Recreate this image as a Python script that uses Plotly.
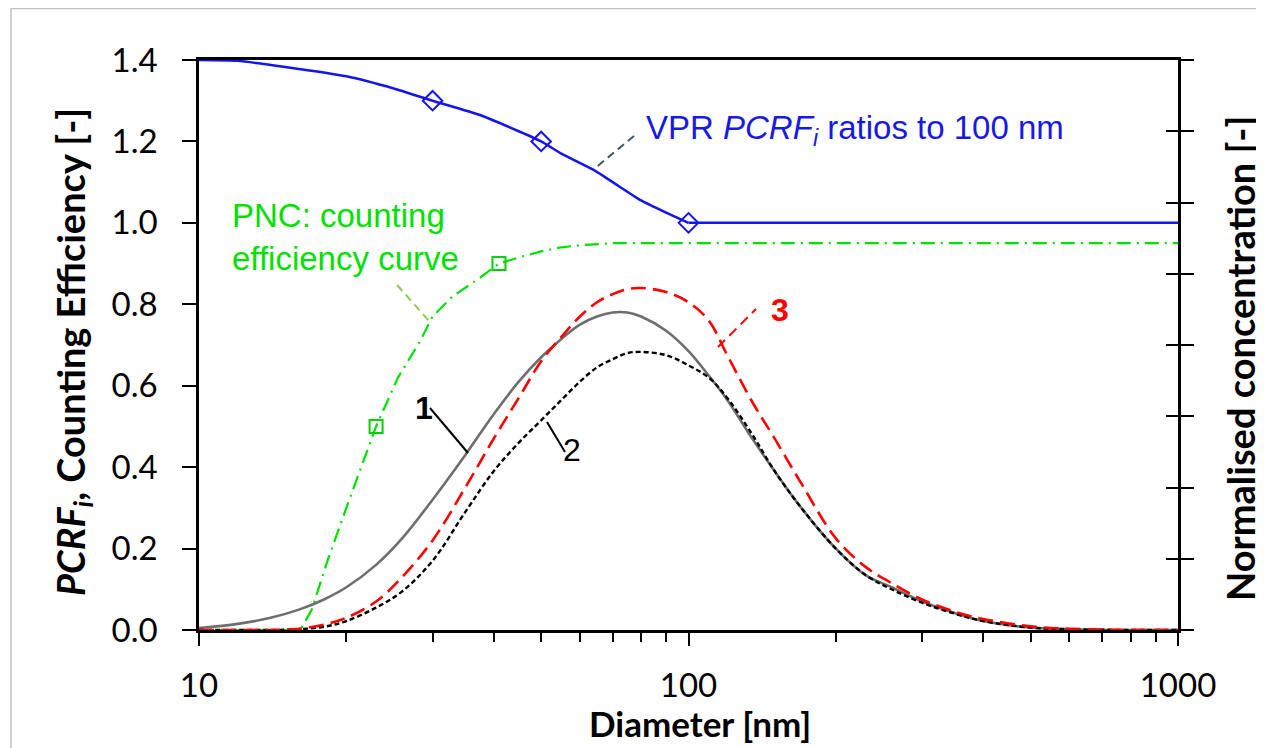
import plotly.graph_objects as go

# ---------------- data ----------------
# VPR PCRF ratios to 100 nm (curved part, then flat part)
vpr_d = [10, 12, 15, 20, 25, 30, 37.5, 45, 50, 55, 64, 70, 80, 90, 100]
vpr_r = [1.40, 1.398, 1.383, 1.36, 1.33, 1.30, 1.265, 1.225, 1.20, 1.17, 1.13, 1.10, 1.055, 1.025, 1.00]
vpr_flat_d = [100, 1000]
vpr_flat_r = [1.00, 1.00]
vpr_mark_d = [30, 50, 100]
vpr_mark_r = [1.30, 1.20, 1.00]

# PNC counting efficiency curve
pnc_d = [10, 16.1, 17, 18.3, 20, 23, 25.5, 28.3, 30, 33, 37, 41, 45, 50, 55, 60, 70, 80, 100, 1000]
pnc_e = [0, 0, 0.05, 0.17, 0.30, 0.50, 0.62, 0.71, 0.77, 0.82, 0.86, 0.90, 0.915, 0.93, 0.94, 0.945, 0.95, 0.95, 0.95, 0.95]
pnc_mark_d = [23, 41]
pnc_mark_e = [0.50, 0.90]

# size distributions (normalised concentration)
dist_d = [10, 12, 14, 16, 18, 20, 23, 26, 30, 35, 40, 45, 50, 55, 60, 65, 70, 75, 80, 90,
          100, 110, 120, 135, 150, 170, 200, 230, 260, 300, 350, 400, 500, 600, 800, 1000]
dist_1 = [0.005, 0.015, 0.03, 0.05, 0.075, 0.105, 0.16, 0.225, 0.32, 0.43, 0.53, 0.61, 0.67, 0.715, 0.75, 0.77, 0.78, 0.78, 0.77, 0.735,
          0.685, 0.625, 0.565, 0.47, 0.39, 0.30, 0.20, 0.135, 0.105, 0.07, 0.042, 0.022, 0.006, 0.002, 0, 0]
dist_2 = [0, 0, 0, 0.002, 0.008, 0.022, 0.055, 0.095, 0.17, 0.29, 0.39, 0.46, 0.515, 0.565, 0.61, 0.645, 0.665, 0.68, 0.683, 0.675,
          0.65, 0.62, 0.57, 0.48, 0.39, 0.30, 0.20, 0.135, 0.10, 0.067, 0.04, 0.022, 0.006, 0.002, 0, 0]
dist_3 = [0, 0, 0, 0.003, 0.013, 0.03, 0.07, 0.13, 0.22, 0.35, 0.47, 0.57, 0.66, 0.72, 0.77, 0.805, 0.825, 0.837, 0.84, 0.83,
          0.805, 0.76, 0.675, 0.56, 0.47, 0.36, 0.225, 0.155, 0.115, 0.075, 0.045, 0.027, 0.009, 0.003, 0, 0]

x_major = [10, 100, 1000]
x_minor = [20, 30, 40, 50, 60, 70, 80, 90, 200, 300, 400, 500, 600, 700, 800, 900]

# ---------------- layout helpers ----------------
# page coordinates of the plot area (the browser adds an 8 px body margin)
OFF = 8
PL, PR, PT, PB = 199, 1178, 60, 630
W, H = 1264 - OFF, 748 - OFF
PW, PH = PR - PL, PB - PT


def px(x):
    return (x - PL) / PW


def py(y):
    return (PB - y) / PH


FAM = "Lato, 'Open Sans', sans-serif"
TICKFONT = dict(family=FAM, size=33, color="black")
LABFONT = "Liberation Sans, Arial, sans-serif"
BLUE = "rgb(20,20,240)"

fig = go.Figure()

fig.add_trace(go.Scatter(x=pnc_d, y=pnc_e, mode="lines",
                         line=dict(color="rgb(0,225,0)", width=2.2, dash="14px,6px,2px,6px"),
                         showlegend=False))
fig.add_trace(go.Scatter(x=pnc_mark_d, y=pnc_mark_e, mode="markers",
                         marker=dict(symbol="square-open", size=13, color="rgb(0,210,0)", line=dict(width=2)),
                         showlegend=False))
fig.add_trace(go.Scatter(x=vpr_d, y=vpr_r, mode="lines",
                         line=dict(color=BLUE, width=2.5, shape="spline", smoothing=0.5),
                         showlegend=False))
fig.add_trace(go.Scatter(x=vpr_flat_d, y=vpr_flat_r, mode="lines",
                         line=dict(color=BLUE, width=2.5), showlegend=False))
fig.add_trace(go.Scatter(x=vpr_mark_d, y=vpr_mark_r, mode="markers",
                         marker=dict(symbol="diamond-open", size=15, color=BLUE, line=dict(width=2)),
                         showlegend=False))
fig.add_trace(go.Scatter(x=dist_d, y=dist_1, mode="lines", yaxis="y2",
                         line=dict(color="rgb(110,110,110)", width=2.6, shape="spline"), showlegend=False))
fig.add_trace(go.Scatter(x=dist_d, y=dist_2, mode="lines", yaxis="y2",
                         line=dict(color="black", width=2.4, dash="5px,3px", shape="spline"), showlegend=False))
fig.add_trace(go.Scatter(x=dist_d, y=dist_3, mode="lines", yaxis="y2",
                         line=dict(color="rgb(255,0,0)", width=2.6, dash="15px,7px", shape="spline"), showlegend=False))
# invisible trace so that the inner right tick axis is drawn
fig.add_trace(go.Scatter(x=[10], y=[0], yaxis="y3", mode="markers",
                         marker=dict(size=1, color="rgba(0,0,0,0)"), showlegend=False, hoverinfo="skip"))

shapes = [
    # slide frame
    dict(type="line", xref="paper", yref="paper", x0=px(11), x1=px(11), y0=py(8.5), y1=py(760),
         line=dict(color="#c0c0c0", width=1.5)),
    dict(type="line", xref="paper", yref="paper", x0=px(11), x1=px(1280), y0=py(8.5), y1=py(8.5),
         line=dict(color="#c0c0c0", width=1.5)),
    # leader lines
    dict(type="line", xref="paper", yref="paper", x0=px(634), y0=py(136), x1=px(594), y1=py(169),
         line=dict(color="rgb(60,90,110)", width=2, dash="8px,5px")),
    dict(type="line", xref="paper", yref="paper", x0=px(397), y0=py(285), x1=px(430), y1=py(322),
         line=dict(color="rgb(150,200,80)", width=2, dash="8px,5px")),
    dict(type="line", xref="paper", yref="paper", x0=px(430), y0=py(408), x1=px(468), y1=py(453),
         line=dict(color="black", width=2)),
    dict(type="line", xref="paper", yref="paper", x0=px(547), y0=py(422), x1=px(565), y1=py(452),
         line=dict(color="black", width=2)),
    dict(type="line", xref="paper", yref="paper", x0=px(718), y0=py(347), x1=px(756), y1=py(309),
         line=dict(color="rgb(255,0,0)", width=2, dash="10px,6px")),
]

annotations = [
    dict(text="VPR <i>PCRF<sub>i</sub></i> ratios to 100 nm", xref="paper", yref="paper",
         x=px(644), y=py(130), xanchor="left", yanchor="middle", showarrow=False,
         font=dict(family=LABFONT, size=33, color="rgb(25,25,230)")),
    dict(text="PNC: counting<br>efficiency curve", xref="paper", yref="paper",
         x=px(230), y=py(237), xanchor="left", yanchor="middle", align="left", showarrow=False,
         font=dict(family=LABFONT, size=33, color="rgb(0,225,0)")),
    dict(text="<b>1</b>", xref="paper", yref="paper", x=px(413), y=py(408), showarrow=False,
         font=dict(family=LABFONT, size=32, color="black")),
    dict(text="2", xref="paper", yref="paper", x=px(572), y=py(470), showarrow=False,
         font=dict(family=LABFONT, size=32, color="black")),
    dict(text="<b>3</b>", xref="paper", yref="paper", x=px(780), y=py(310), showarrow=False,
         font=dict(family=LABFONT, size=32, color="rgb(255,0,0)")),
    # axis titles
    dict(text="<b>Diameter [nm]</b>", xref="paper", yref="paper", x=px(700), y=py(723),
         xanchor="center", yanchor="middle", showarrow=False,
         font=dict(family=FAM, size=35, color="black")),
    dict(text="<b><i>PCRF<sub>i</sub></i>, Counting Efficiency [-]</b>", xref="paper", yref="paper",
         x=px(73), y=py(352), xanchor="center", yanchor="middle", textangle=-90, showarrow=False,
         font=dict(family=FAM, size=38, color="black")),
    dict(text="<b>Normalised concentration [-]</b>", xref="paper", yref="paper",
         x=px(1240), y=py(359), xanchor="center", yanchor="middle", textangle=-90, showarrow=False,
         font=dict(family=FAM, size=38, color="black")),
]

fig.update_layout(
    width=W, height=H, autosize=False,
    margin=dict(l=PL - OFF, r=W - (PR - OFF), t=PT - OFF, b=H - (PB - OFF), pad=0),
    paper_bgcolor="white", plot_bgcolor="white",
    showlegend=False,
    shapes=shapes, annotations=annotations,
    xaxis=dict(type="log", range=[1, 3], tickmode="array", tickvals=x_major,
               ticktext=[str(v) for v in x_major],
               ticks="outside", ticklen=13, tickwidth=2, tickcolor="black",
               minor=dict(tickmode="array", tickvals=x_minor, ticks="outside", ticklen=9,
                          tickwidth=1.6, tickcolor="black", showgrid=False),
               showline=True, linewidth=2.5, linecolor="black", mirror=True,
               showgrid=False, zeroline=False, tickfont=TICKFONT, ticklabelstandoff=12),
    yaxis=dict(range=[0, 1.4], dtick=0.2, tick0=0, tickformat=".1f",
               ticks="outside", ticklen=14, tickwidth=2, tickcolor="black",
               showline=True, linewidth=2.5, linecolor="black", mirror=True,
               showgrid=False, zeroline=False, tickfont=TICKFONT, ticklabelstandoff=18),
    yaxis2=dict(overlaying="y", side="right", range=[0, 1.4], dtick=0.175, tick0=0,
                ticks="outside", ticklen=13, tickwidth=2, tickcolor="black",
                showticklabels=False, showline=True, linewidth=2.5, linecolor="black",
                showgrid=False, zeroline=False),
    yaxis3=dict(overlaying="y", side="right", range=[0, 1.4], dtick=0.175, tick0=0,
                ticks="inside", ticklen=12, tickwidth=2, tickcolor="black",
                showticklabels=False, showline=False, showgrid=False, zeroline=False),
)

fig.write_html("out.html")
